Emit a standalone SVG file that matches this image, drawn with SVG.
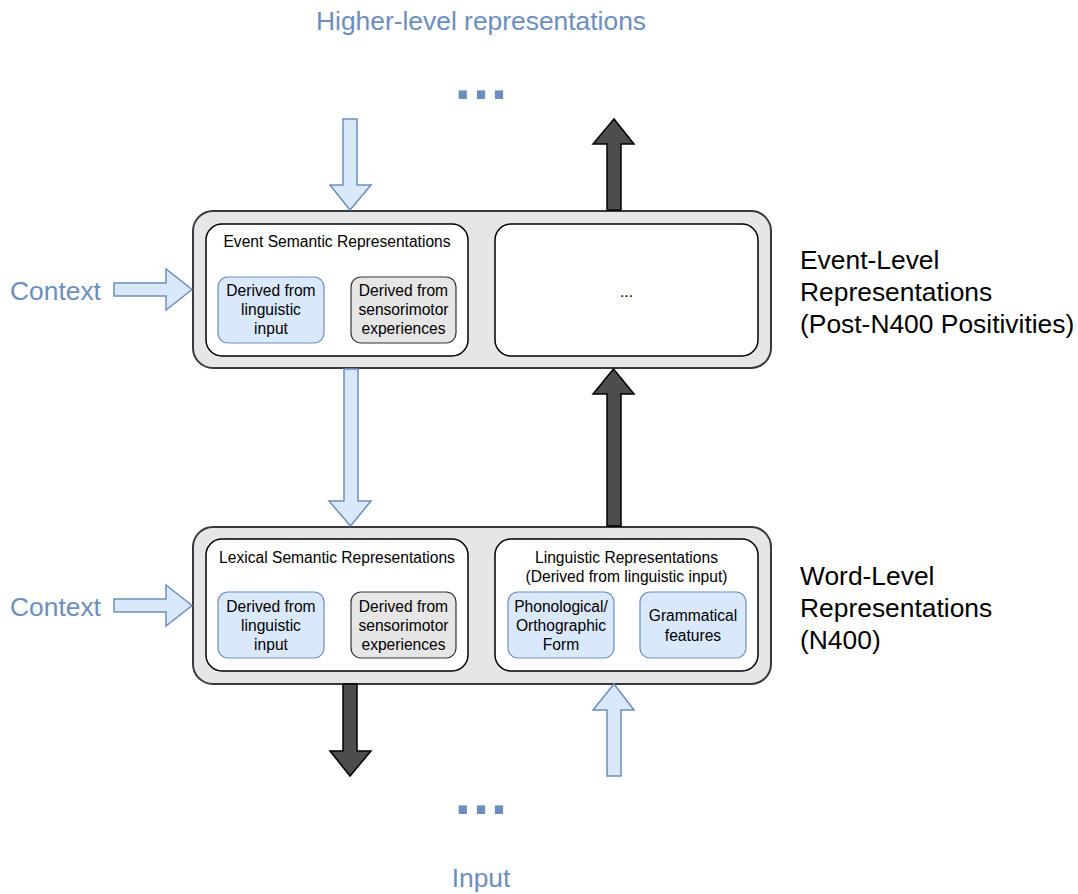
<svg xmlns="http://www.w3.org/2000/svg" width="1078" height="894" viewBox="0 0 1078 894">
<style>
.outer{fill:#e6e6e6;stroke:#36393d;stroke-width:2}
.inner{fill:#ffffff;stroke:#000000;stroke-width:1.5}
.blue{fill:#dae8fc;stroke:#6c8ebf;stroke-width:1.2}
.gray{fill:#e6e6e6;stroke:#333333;stroke-width:1.2}
.la{fill:#dae8fc;stroke:#6c8ebf;stroke-width:1.5;stroke-linejoin:miter}
.da{fill:#4d4d4d;stroke:#000000;stroke-width:1.5;stroke-linejoin:miter}
text{font-family:"Liberation Sans",Arial,sans-serif}
.s{font-size:15.6px;fill:#000;text-anchor:middle}
.big{font-size:26.4px;fill:#000}
.bl{font-size:26.4px;fill:#6c8ebf}
.dots{font-size:58px;fill:#6c8ebf;text-anchor:middle;font-weight:bold;letter-spacing:2px}
</style>
<rect width="1078" height="894" fill="#ffffff"/>
<g id="labels">
<text class="bl" x="481" y="30" text-anchor="middle">Higher-level representations</text>
<text class="dots" x="482" y="99">...</text>
<text class="dots" x="482" y="814">...</text>
<text class="bl" x="481" y="887" text-anchor="middle">Input</text>
<text class="bl" x="10" y="300">Context</text>
<text class="bl" x="10" y="616">Context</text>
<text class="big" x="800" y="269">Event-Level</text>
<text class="big" x="800" y="301">Representations</text>
<text class="big" x="800" y="333">(Post-N400 Positivities)</text>
<text class="big" x="800" y="585">Word-Level</text>
<text class="big" x="800" y="617">Representations</text>
<text class="big" x="800" y="649">(N400)</text>
</g>
<g id="event-level">
<rect class="outer" x="193" y="211" width="578" height="157" rx="20"/>
<g id="event-semantic">
<rect class="inner" x="206" y="224" width="262" height="132" rx="16"/>
<text class="s" x="337" y="247">Event Semantic Representations</text>
<rect class="blue" x="218" y="277" width="106" height="66" rx="10"/>
<text class="s" x="271" y="296">Derived from</text>
<text class="s" x="271" y="315">linguistic</text>
<text class="s" x="271" y="334">input</text>
<rect class="gray" x="351" y="277" width="105" height="66" rx="10"/>
<text class="s" x="403.5" y="296">Derived from</text>
<text class="s" x="403.5" y="315">sensorimotor</text>
<text class="s" x="403.5" y="334">experiences</text>
</g>
<g id="event-other">
<rect class="inner" x="495" y="224" width="263" height="132" rx="16"/>
<text class="s" x="626.5" y="297">...</text>
</g>
</g>
<g id="word-level">
<rect class="outer" x="193" y="527" width="578" height="157" rx="20"/>
<g id="lexical-semantic">
<rect class="inner" x="206" y="539" width="262" height="132" rx="16"/>
<text class="s" x="337" y="563">Lexical Semantic Representations</text>
<rect class="blue" x="218" y="592" width="106" height="66" rx="10"/>
<text class="s" x="271" y="612">Derived from</text>
<text class="s" x="271" y="631">linguistic</text>
<text class="s" x="271" y="650">input</text>
<rect class="gray" x="351" y="592" width="105" height="66" rx="10"/>
<text class="s" x="403.5" y="612">Derived from</text>
<text class="s" x="403.5" y="631">sensorimotor</text>
<text class="s" x="403.5" y="650">experiences</text>
</g>
<g id="linguistic">
<rect class="inner" x="495" y="539" width="263" height="132" rx="16"/>
<text class="s" x="626.5" y="563">Linguistic Representations</text>
<text class="s" x="626.5" y="582">(Derived from linguistic input)</text>
<rect class="blue" x="508" y="592" width="106" height="66" rx="10"/>
<text class="s" x="561" y="612">Phonological/</text>
<text class="s" x="561" y="631">Orthographic</text>
<text class="s" x="561" y="650">Form</text>
<rect class="blue" x="640" y="592" width="106" height="66" rx="10"/>
<text class="s" x="693" y="621">Grammatical</text>
<text class="s" x="693" y="641">features</text>
</g>
</g>
<g id="connectors">
<polygon class="la" points="343,119 357,119 357,185 371,185 350,210 330,185 343,185"/>
<polygon class="da" points="607,210 621,210 621,144 634,144 614,119 593,144 607,144"/>
<polygon class="la" points="344,369 358,369 358,501 371,501 350.5,526 329,501 344,501"/>
<polygon class="da" points="607,526 621,526 621,394 634,394 613.5,369 593,394 607,394"/>
<polygon class="da" points="343,684 357,684 357,751 371,751 350,776 330,751 343,751"/>
<polygon class="la" points="607,776 621,776 621,710 634,710 614,684 593,710 607,710"/>
<polygon class="la" points="114,283 166,283 166,269 192,289.5 166,310 166,296 114,296"/>
<polygon class="la" points="114,599 166,599 166,585 192,605.5 166,626 166,612 114,612"/>
</g>
</svg>
